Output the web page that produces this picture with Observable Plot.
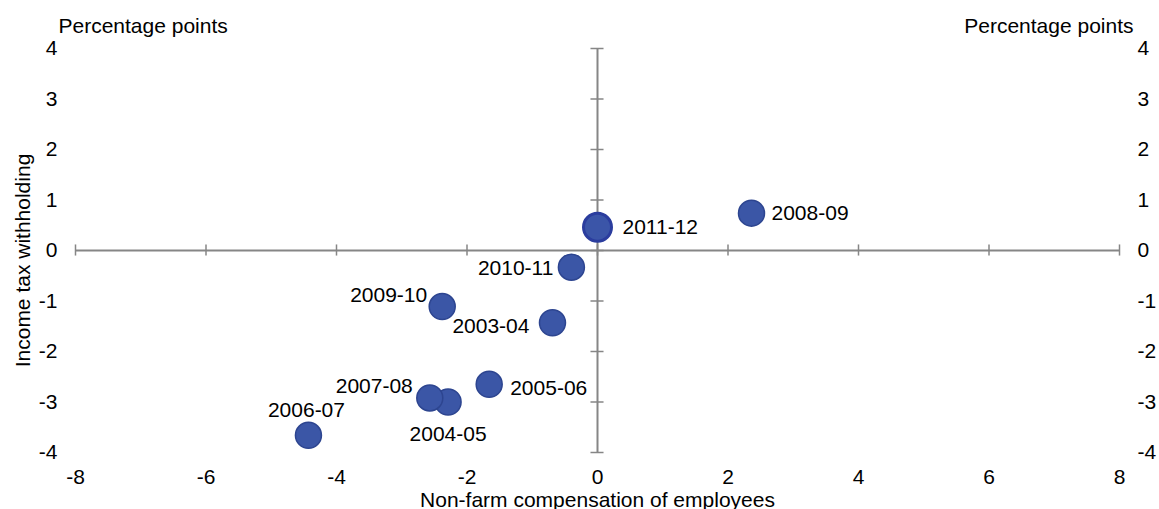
<!DOCTYPE html>
<html>
<head>
<meta charset="utf-8">
<script src="https://cdn.jsdelivr.net/npm/d3@7"></script>
<script src="https://cdn.jsdelivr.net/npm/@observablehq/plot@0.6"></script>
<style>
  html, body { margin: 0; padding: 0; background: #ffffff; }
  #chart svg { display: block; }
</style>
</head>
<body>
<div id="chart"></div>
<script>
// ---- Data ----
const years = ["2003-04", "2004-05", "2005-06", "2006-07", "2007-08", "2008-09", "2009-10", "2010-11", "2011-12"];
const compensation = [-0.69, -2.29, -1.66, -4.43, -2.57, 2.36, -2.38, -0.40, 0.00];
const withholding = [-1.43, -3.00, -2.65, -3.66, -2.92, 0.74, -1.11, -0.33, 0.46];
const highlightYear = "2011-12";

const xTicks = [-8, -6, -4, -2, 0, 2, 4, 6, 8];
const yTicks = [-4, -3, -2, -1, 0, 1, 2, 3, 4];

const xTitle = "Non-farm compensation of employees";
const yTitle = "Income tax withholding";
const unitLabel = "Percentage points";

// ---- Label placement (style only) ----
const labelPlacement = {
  "2003-04": {anchor: "end", dx: -23, dy: 4},
  "2004-05": {anchor: "middle", dx: 0, dy: 32},
  "2005-06": {anchor: "start", dx: 21, dy: 4},
  "2006-07": {anchor: "middle", dx: -2, dy: -25},
  "2007-08": {anchor: "end", dx: -17, dy: -12},
  "2008-09": {anchor: "start", dx: 20, dy: 0},
  "2009-10": {anchor: "end", dx: -15, dy: -11},
  "2010-11": {anchor: "end", dx: -18, dy: 1},
  "2011-12": {anchor: "start", dx: 25, dy: 0}
};

const data = years.map((year, i) => ({year, x: compensation[i], y: withholding[i]}));

const FONT = "'Liberation Sans', Arial, Helvetica, sans-serif";
const FS = 21;
const axisGray = "#868686";
const dotFill = "#3b56a6";
const dotStroke = "#2d4590";
const fmt = d => String(d); // plain hyphen-minus, as in the reference

const labelMarks = data.map(d => {
  const p = labelPlacement[d.year];
  return Plot.text([d], {
    x: "x", y: "y", text: "year",
    textAnchor: p.anchor, dx: p.dx, dy: p.dy,
    lineAnchor: "middle", fontSize: FS, fill: "#000"
  });
});

const chart = Plot.plot({
  width: 1159,
  height: 509,
  marginTop: 48,
  marginBottom: 57,
  marginLeft: 75,
  marginRight: 40,
  style: {fontFamily: FONT, fontSize: FS + "px", background: "#ffffff", color: "#000"},
  x: {domain: [-8, 8]},
  y: {domain: [-4, 4]},
  marks: [
    // tick labels
    Plot.axisX({ticks: xTicks, tickFormat: fmt, anchor: "bottom", tickSize: 0, tickPadding: 17, fontSize: FS, label: null}),
    Plot.axisY({ticks: yTicks, tickFormat: fmt, anchor: "left", tickSize: 0, tickPadding: 18, fontSize: FS, label: null}),
    Plot.axisY({ticks: yTicks, tickFormat: fmt, anchor: "right", tickSize: 0, tickPadding: 18, fontSize: FS, label: null, textAnchor: "start"}),
    // axes crossing at origin
    Plot.ruleY([0], {x1: -8, x2: 8, stroke: axisGray, strokeWidth: 2}),
    Plot.ruleX([0], {y1: -4, y2: 4, stroke: axisGray, strokeWidth: 2}),
    // tick marks on the crossing axes
    Plot.ruleX(xTicks, {y1: -0.11, y2: 0.11, stroke: axisGray, strokeWidth: 1.5}),
    Plot.ruleY(yTicks, {x1: -0.1, x2: 0.1, stroke: axisGray, strokeWidth: 1.5}),
    // points
    Plot.dot(data.filter(d => d.year !== highlightYear), {x: "x", y: "y", r: 13, fill: dotFill, stroke: dotStroke, strokeWidth: 1.5}),
    Plot.dot(data.filter(d => d.year === highlightYear), {x: "x", y: "y", r: 14, fill: "#3b55a8", stroke: "#2b3d9e", strokeWidth: 3}),
    ...labelMarks,
    // titles
    Plot.text([xTitle], {frameAnchor: "bottom", text: d => d, lineAnchor: "bottom", dy: 54, fontSize: FS, fill: "#000"}),
    Plot.text([yTitle], {frameAnchor: "left", text: d => d, rotate: -90, textAnchor: "middle", lineAnchor: "middle", dx: -52, dy: 10, fontSize: FS, fill: "#000"}),
    Plot.text([unitLabel], {frameAnchor: "top-left", text: d => d, textAnchor: "start", lineAnchor: "bottom", dx: -17, dy: -16, fontSize: FS, fill: "#000"}),
    Plot.text([unitLabel], {frameAnchor: "top-right", text: d => d, textAnchor: "end", lineAnchor: "bottom", dx: 14, dy: -16, fontSize: FS, fill: "#000"})
  ]
});

document.getElementById("chart").appendChild(chart);
</script>
</body>
</html>
